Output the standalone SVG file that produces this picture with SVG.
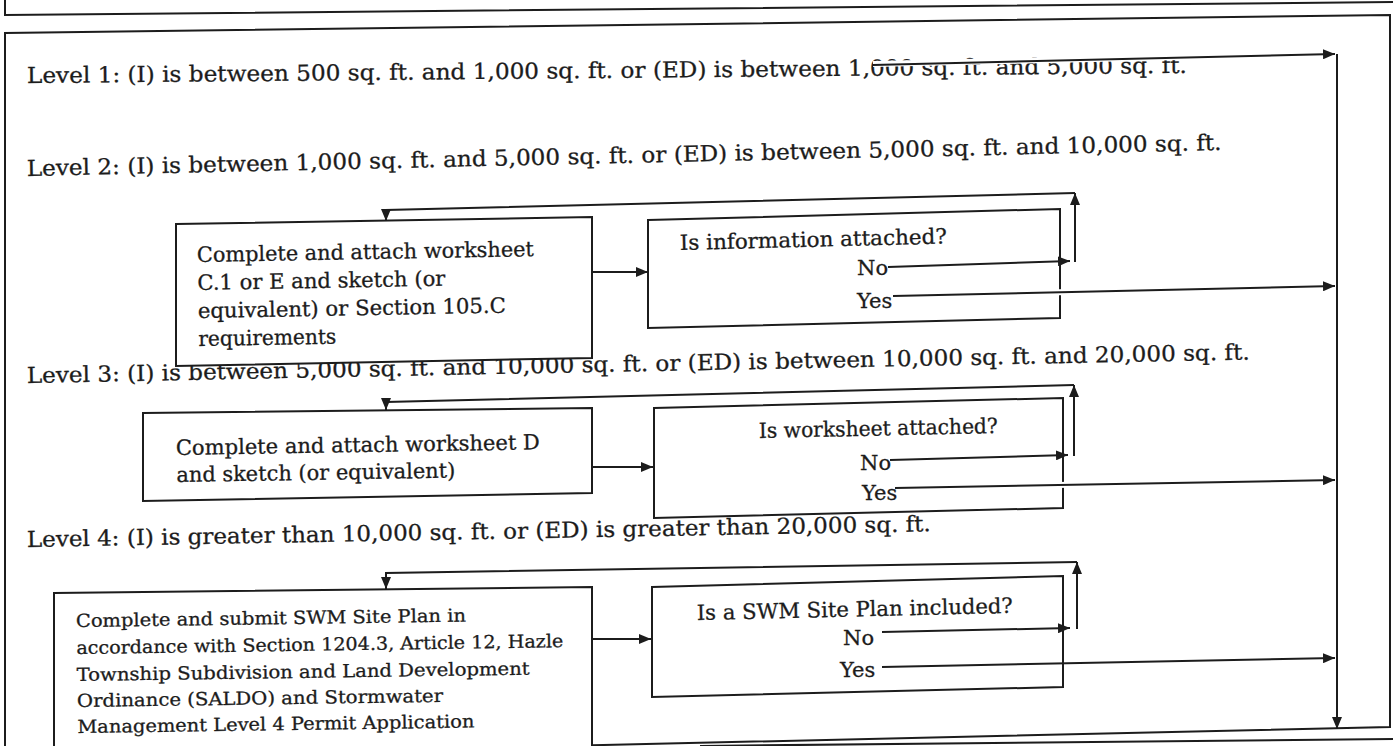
<svg xmlns="http://www.w3.org/2000/svg" width="1393" height="746" viewBox="0 0 1393 746">
<style>
.frame{fill:none;stroke:#1c1c1c;stroke-width:2}
.box{fill:#fff;stroke:#1c1c1c;stroke-width:2}
.t{font-family:"DejaVu Serif","Liberation Serif",serif;fill:#1c1c1c;stroke:#1c1c1c;stroke-width:0.3;white-space:pre}
.lv{font-size:22px}
.bt{font-size:21px}
.st{font-size:18px}
.conn{fill:none;stroke:#1c1c1c;stroke-width:2}
.halo{fill:none;stroke:#fff;stroke-width:6}
</style>
<defs>
<marker id="ah" viewBox="0 0 12 10" markerWidth="12" markerHeight="10" refX="12" refY="5" orient="auto" markerUnits="userSpaceOnUse">
<path d="M0,0 L12,5 L0,10 z" fill="#1c1c1c"/>
</marker>
</defs>
<rect width="1393" height="746" fill="#fff"/>
<g id="frame">
<path class="frame" d="M5,0 L5,15 L1393,2"/>
<path class="frame" d="M5,746 L5,33 L1390,15 L1390,727 L560,746"/>
<path class="frame" d="M700,746 L1393,739"/>
</g>
<g id="n-level1"><text class="t lv" x="27" y="83" textLength="1160" lengthAdjust="spacingAndGlyphs" transform="rotate(-0.5 27 83)">Level 1: (I) is between 500 sq. ft. and 1,000 sq. ft. or (ED) is between 1,000 sq. ft. and 5,000 sq. ft.</text></g>
<g id="n-level2"><text class="t lv" x="27" y="176" textLength="1195" lengthAdjust="spacingAndGlyphs" transform="rotate(-1.25 27 176)">Level 2: (I) is between 1,000 sq. ft. and 5,000 sq. ft. or (ED) is between 5,000 sq. ft. and 10,000 sq. ft.</text></g>
<g id="n-level3"><text class="t lv" x="27" y="383" textLength="1223" lengthAdjust="spacingAndGlyphs" transform="rotate(-1.1 27 383)">Level 3: (I) is between 5,000 sq. ft. and 10,000 sq. ft. or (ED) is between 10,000 sq. ft. and 20,000 sq. ft.</text></g>
<g id="n-level4"><text class="t lv" x="27" y="547" textLength="904" lengthAdjust="spacingAndGlyphs" transform="rotate(-1.0 27 547)">Level 4: (I) is greater than 10,000 sq. ft. or (ED) is greater than 20,000 sq. ft.</text></g>
<g id="n-boxA">
<polygon class="box" points="176,224 592,217 592,358 176,366"/>
<g class="t bt" transform="rotate(-1 197 262)">
<text x="197" y="262" textLength="337" lengthAdjust="spacingAndGlyphs">Complete and attach worksheet</text>
<text x="197" y="290" textLength="248" lengthAdjust="spacingAndGlyphs">C.1 or E and sketch (or</text>
<text x="197" y="318" textLength="308" lengthAdjust="spacingAndGlyphs">equivalent) or Section 105.C</text>
<text x="197" y="346" textLength="138" lengthAdjust="spacingAndGlyphs">requirements</text>
</g>
</g>
<g id="n-boxB">
<polygon class="box" points="648,220 1060,209 1060,318 648,328"/>
<g class="t bt" transform="rotate(-1.4 680 250)">
<text x="680" y="250" textLength="267" lengthAdjust="spacingAndGlyphs">Is information  attached?</text>
</g>
<text class="t bt" x="857" y="275">No</text>
<text class="t bt" x="857" y="308">Yes</text>
</g>
<g id="n-boxC">
<polygon class="box" points="143,413 592,408 592,493 143,501"/>
<g class="t bt" transform="rotate(-0.9 176 455)">
<text x="176" y="455" textLength="364" lengthAdjust="spacingAndGlyphs">Complete and attach worksheet D</text>
<text x="176" y="482" textLength="279" lengthAdjust="spacingAndGlyphs">and sketch (or equivalent)</text>
</g>
</g>
<g id="n-boxD">
<polygon class="box" points="654,408 1063,398 1063,508 654,518"/>
<g class="t bt" transform="rotate(-1.2 759 438)">
<text x="759" y="438" textLength="239" lengthAdjust="spacingAndGlyphs">Is worksheet attached?</text>
</g>
<text class="t bt" x="860" y="470">No</text>
<text class="t bt" x="862" y="500">Yes</text>
</g>
<g id="n-boxE">
<polygon class="box" points="54,593 592,587 592,760 54,760"/>
<g class="t st" transform="rotate(-0.8 76 627)">
<text x="76" y="627" textLength="390" lengthAdjust="spacingAndGlyphs">Complete and submit SWM Site Plan in</text>
<text x="76" y="654" textLength="487" lengthAdjust="spacingAndGlyphs">accordance with Section 1204.3, Article 12, Hazle</text>
<text x="76" y="681" textLength="453" lengthAdjust="spacingAndGlyphs">Township Subdivision and Land Development</text>
<text x="76" y="707" textLength="366" lengthAdjust="spacingAndGlyphs">Ordinance (SALDO) and Stormwater</text>
<text x="76" y="733" textLength="397" lengthAdjust="spacingAndGlyphs">Management Level 4 Permit Application</text>
</g>
</g>
<g id="n-boxF">
<polygon class="box" points="652,587 1063,576 1063,687 652,697"/>
<g class="t bt" transform="rotate(-1.3 697 620)">
<text x="697" y="620" textLength="316" lengthAdjust="spacingAndGlyphs">Is a SWM Site Plan included?</text>
</g>
<text class="t bt" x="843" y="645">No</text>
<text class="t bt" x="840" y="677">Yes</text>
</g>
<g id="connectors">
<path class="halo" d="M873,64 L1320,54"/>
<path class="halo" d="M890,267 L1060,261"/>
<path class="halo" d="M895,296 L1320,286"/>
<path class="halo" d="M892,460 L1058,455"/>
<path class="halo" d="M897,488 L1320,480"/>
<path class="conn" marker-end="url(#ah)" d="M873,65 L1335,54"/>
<path class="conn" marker-end="url(#ah)" d="M1337,54 L1337,729"/>
<path class="conn" marker-end="url(#ah)" d="M592,272 L648,272"/>
<path class="conn" marker-end="url(#ah)" d="M888,267 L1070,261"/>
<path class="conn" marker-end="url(#ah)" d="M1075,262 L1075,193"/>
<path class="conn" marker-end="url(#ah)" d="M1075,193 L386,210 L386,221"/>
<path class="conn" marker-end="url(#ah)" d="M893,296 L1335,286"/>
<path class="conn" marker-end="url(#ah)" d="M592,467 L653,467"/>
<path class="conn" marker-end="url(#ah)" d="M890,460 L1068,455"/>
<path class="conn" marker-end="url(#ah)" d="M1074,456 L1074,385"/>
<path class="conn" marker-end="url(#ah)" d="M1074,385 L386,402 L386,410"/>
<path class="conn" marker-end="url(#ah)" d="M895,488 L1335,480"/>
<path class="conn" marker-end="url(#ah)" d="M593,639 L651,639"/>
<path class="conn" marker-end="url(#ah)" d="M882,632 L1070,628"/>
<path class="conn" marker-end="url(#ah)" d="M1077,629 L1077,562"/>
<path class="conn" marker-end="url(#ah)" d="M1077,562 L386,573 L386,589"/>
<path class="conn" marker-end="url(#ah)" d="M882,667 L1335,658"/>
</g>
</svg>
